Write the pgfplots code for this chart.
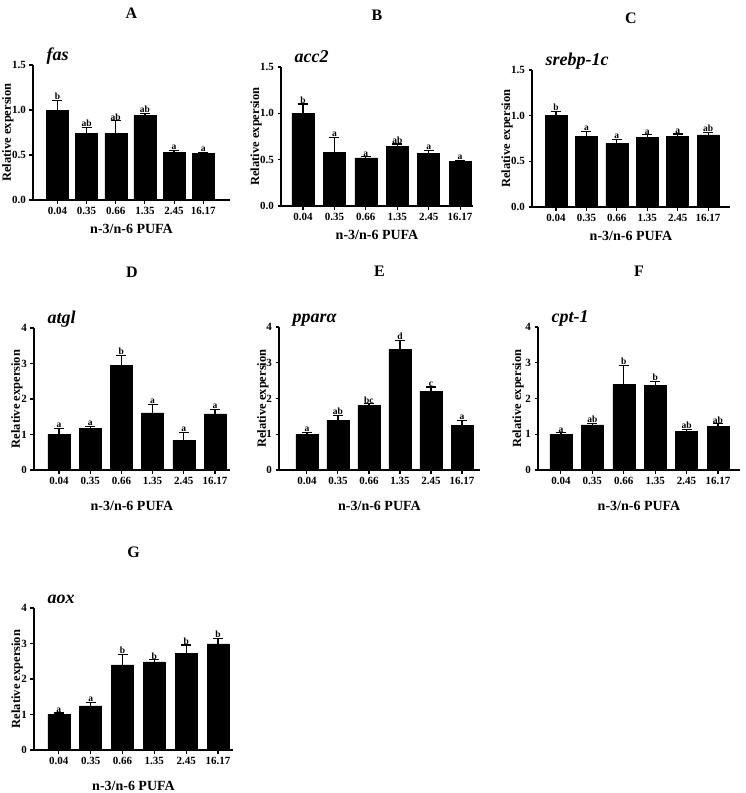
\documentclass[border=0pt]{standalone}
\usepackage{fontspec}
\setmainfont{Liberation Serif}
\usepackage{pgfplots}
\pgfplotsset{compat=1.18}
\usepackage{pgfplotstable}

% one table per gene: position, mean, upper error, letter
\pgfplotstableread{
x y ey lab
0 1.00 0.11 b
1 0.74 0.07 ab
2 0.74 0.14 ab
3 0.94 0.02 ab
4 0.53 0.02 a
5 0.52 0.005 a
}\fas
\pgfplotstableread{
x y ey lab
0 1.00 0.10 b
1 0.58 0.16 a
2 0.52 0.01 a
3 0.64 0.03 ab
4 0.57 0.03 a
5 0.485 0.01 a
}\acc
\pgfplotstableread{
x y ey lab
0 1.00 0.05 b
1 0.77 0.06 a
2 0.70 0.04 a
3 0.76 0.03 a
4 0.77 0.03 a
5 0.79 0.025 ab
}\srebp
\pgfplotstableread{
x y ey lab
0 1.00 0.17 a
1 1.18 0.04 a
2 2.95 0.27 b
3 1.61 0.24 a
4 0.84 0.21 a
5 1.58 0.12 a
}\atgl
\pgfplotstableread{
x y ey lab
0 1.00 0.05 a
1 1.38 0.14 ab
2 1.81 0.04 bc
3 3.38 0.25 d
4 2.20 0.12 c
5 1.24 0.14 a
}\ppara
\pgfplotstableread{
x y ey lab
0 1.00 0.04 a
1 1.26 0.05 ab
2 2.39 0.54 b
3 2.36 0.12 b
4 1.09 0.05 ab
5 1.22 0.07 ab
}\cpt
\pgfplotstableread{
x y ey lab
0 1.00 0.04 a
1 1.24 0.10 a
2 2.40 0.30 b
3 2.48 0.06 b
4 2.73 0.23 b
5 2.99 0.16 b
}\aox

\pgfplotsset{
  panel/.style={
    scale only axis, anchor=south west, clip=false,
    axis x line=bottom, axis y line=left,
    axis line style={-, line width=1.3pt},
    ymin=0,
    xtick={0,...,5},
    xticklabels={0.04,0.35,0.66,1.35,2.45,16.17},
    tick style={line width=1.1pt, black},
    major tick length=3.5pt, tick align=outside,
    ticklabel style={font=\fontsize{11}{11}\selectfont\bfseries},
    /pgf/number format/assume math mode=true,
    ylabel={Relative expersion},
    ylabel style={font=\fontsize{12.5}{12.5}\selectfont\bfseries, anchor=center},
    xlabel={n-3/n-6 PUFA},
    xlabel style={font=\fontsize{14}{14}\selectfont\bfseries,
                  at={(axis description cs:0.5,0)}, anchor=center},
    title style={font=\fontsize{16}{16}\selectfont\bfseries,
                 at={(axis description cs:0.5,1)}, anchor=center},
  },
  low/.style={ymax=1.5, ytick={0,0.5,1,1.5},
    yticklabel style={/pgf/number format/fixed, /pgf/number format/fixed zerofill,
                      /pgf/number format/precision=1},
    xlabel style={yshift=-29pt}, title style={yshift=46pt}},
  high/.style={ymax=4, ytick={0,1,2,3,4}, xlabel style={yshift=-36pt},
    title style={yshift=50pt}},
  ylab/.style={ylabel style={at={(axis description cs:#1,0.5)}}},
}

\newcommand\bars[1]{%
  \addplot[ybar, bar width=22pt, fill=black, draw=black,
    error bars/.cd, y dir=plus, y explicit,
    error bar style={line width=1.2pt, black},
    error mark options={rotate=90, mark size=5pt, line width=1.2pt, black}]
    table[x=x, y=y, y error=ey] {#1};
  \addplot[draw=none, mark=none, nodes near coords, point meta=explicit symbolic,
    nodes near coords style={anchor=south, inner sep=0.5pt,
      font=\fontsize{9.5}{9.5}\selectfont\bfseries}]
    table[x=x, y expr=\thisrow{y}+\thisrow{ey}, meta=lab] {#1};
}
\newcommand\gene[1]{%
  \node[anchor=base west, xshift=10pt, yshift=5pt,
    font=\fontsize{18}{18}\selectfont\bfseries\itshape]
    at (axis description cs:0,1) {#1};
}

\begin{document}
\begin{tikzpicture}
\useasboundingbox (0,0) rectangle (745pt,-793pt);

\begin{axis}[panel, low, at={(33pt,-200pt)}, width=197pt, height=135pt,
  xmin=-0.84, xmax=5.92, title={A}, ylab=-0.127]
\bars{\fas}
\gene{fas}
\end{axis}

\begin{axis}[panel, low, at={(281pt,-206pt)}, width=192pt, height=139pt,
  xmin=-0.7, xmax=5.41, title={B}, ylab=-0.13]
\bars{\acc}
\gene{acc2}
\end{axis}

\begin{axis}[panel, low, at={(532pt,-207pt)}, width=198pt, height=137pt,
  xmin=-0.79, xmax=5.72, title={C}, ylab=-0.126]
\bars{\srebp}
\gene{srebp-1c}
\end{axis}

\begin{axis}[panel, high, at={(34pt,-470pt)}, width=196pt, height=142pt,
  xmin=-0.8, xmax=5.48, title={D}, ylab=-0.087]
\bars{\atgl}
\gene{atgl}
\end{axis}

\begin{axis}[panel, high, at={(279pt,-470pt)}, width=201pt, height=143pt,
  xmin=-0.9, xmax=5.58, title={E}, ylab=-0.08]
\bars{\ppara}
\gene{pparα}
\end{axis}

\begin{axis}[panel, high, at={(538pt,-470pt)}, width=202pt, height=143pt,
  xmin=-0.73, xmax=5.7, title={F}, ylab=-0.099]
\bars{\cpt}
\gene{cpt-1}
\end{axis}

\begin{axis}[panel, high, at={(34pt,-750pt)}, width=199pt, height=142pt,
  xmin=-0.78, xmax=5.47, title={G}, ylab=-0.085]
\bars{\aox}
\gene{aox}
\end{axis}
\end{tikzpicture}
\end{document}
